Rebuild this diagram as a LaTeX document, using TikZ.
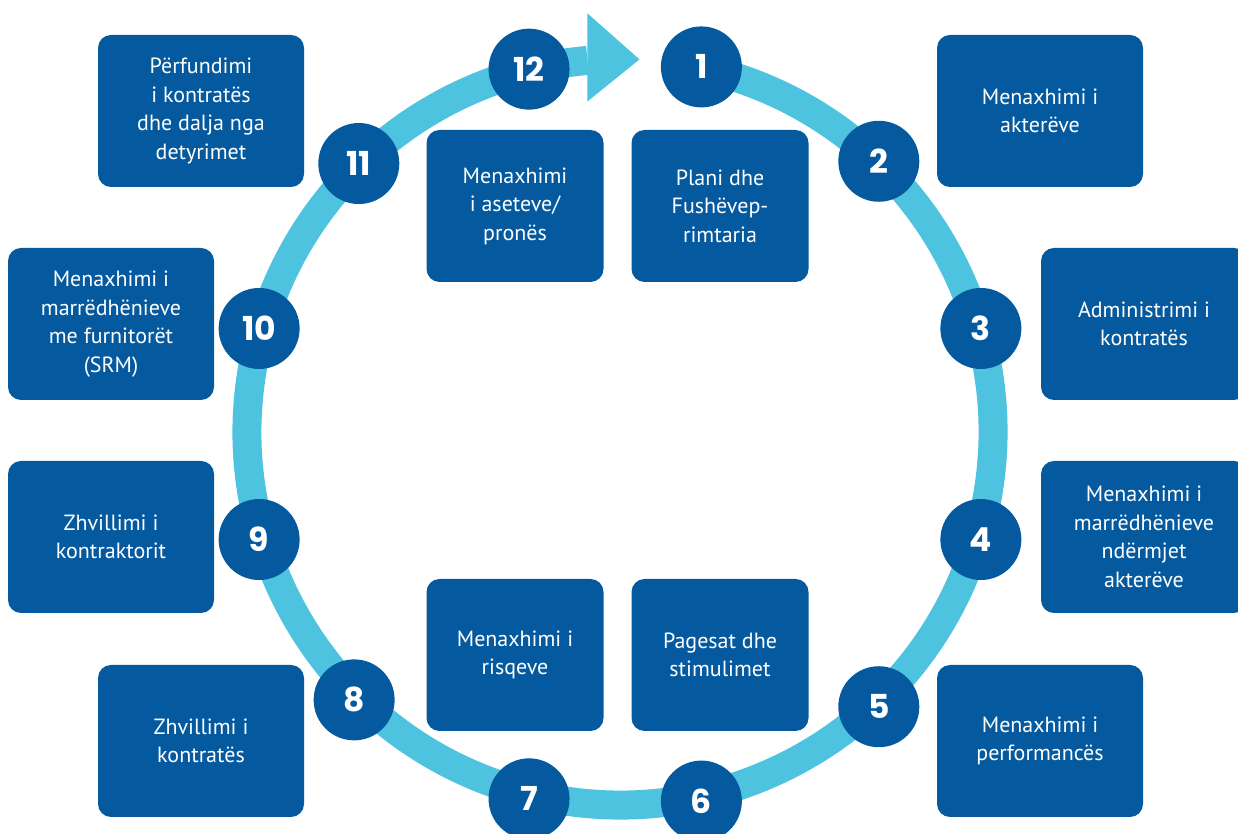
\documentclass[tikz,border=0pt]{standalone}
\usepackage{fontspec}
\setmainfont{PT Sans}
\newfontfamily\numfont{Poppins}

\definecolor{boxblue}{RGB}{5, 90, 159}
\definecolor{ringblue}{RGB}{77, 195, 224}

\begin{document}
\begin{tikzpicture}[x=1pt, y=1pt,
    box/.style={fill=boxblue, rounded corners=13pt, text=white, align=center,
      inner sep=0pt, minimum height=152pt,
      font=\fontsize{22}{28.5}\selectfont},
    wide/.style={box, minimum width=206pt},
    narrow/.style={box, minimum width=177pt},
    numcirc/.style={circle, fill=boxblue, text=white, minimum size=81pt,
      inner sep=0pt, font=\numfont\bfseries\fontsize{33}{33}\selectfont}]
  \clip (0, 0) rectangle (1238, 834);
  \coordinate (c) at (620, 402);
  \coordinate (cn) at (620, 400);

  % the ring with its arrow
  \draw[ringblue, line width=29pt] (c) ++(78:373)
    arc[start angle=78, end angle=-265, radius=373] coordinate (tail);
  \fill[ringblue] (tail) ++(0, 47) -- ++(52, -46) -- ++(-52, -42) -- cycle;

  % the boxes
  \node[wide] (perfundimi) at (201, 723) {Përfundimi\\i kontratës\\dhe dalja nga\\detyrimet};
  \node[wide] (akteret) at (1040, 723) {Menaxhimi i\\akterëve};
  \node[narrow] (asetet) at (515, 628) {Menaxhimi\\i aseteve/\\pronës};
  \node[narrow] (plani) at (720, 628) {Plani dhe\\Fushëvep-\\rimtaria};
  \node[wide] (srm) at (111, 510) {Menaxhimi i\\marrëdhënieve\\me furnitorët\\(SRM)};
  \node[wide] (admin) at (1144, 510) {Administrimi i\\kontratës};
  \node[wide] (kontraktori) at (111, 297) {Zhvillimi i\\kontraktorit};
  \node[wide] (marredheniet) at (1144, 297) {Menaxhimi i\\marrëdhënieve\\ndërmjet\\akterëve};
  \node[narrow] (risqet) at (515, 179) {Menaxhimi i\\risqeve};
  \node[narrow] (pagesat) at (720, 179) {Pagesat dhe\\stimulimet};
  \node[wide] (kontrata) at (201, 93) {Zhvillimi i\\kontratës};
  \node[wide] (performanca) at (1040, 93) {Menaxhimi i\\performancës};

  % the numbered steps
  \foreach \n/\a in {1/77.5, 2/46.5, 3/16.3, 4/-16.3, 5/-46.5, 6/-77.5,
      7/-104, 8/-135, 9/-163.7, 10/163.7, 11/134, 12/104}
    \node[numcirc] (n\n) at ([shift={(\a:376)}]cn) {\n};
\end{tikzpicture}
\end{document}
